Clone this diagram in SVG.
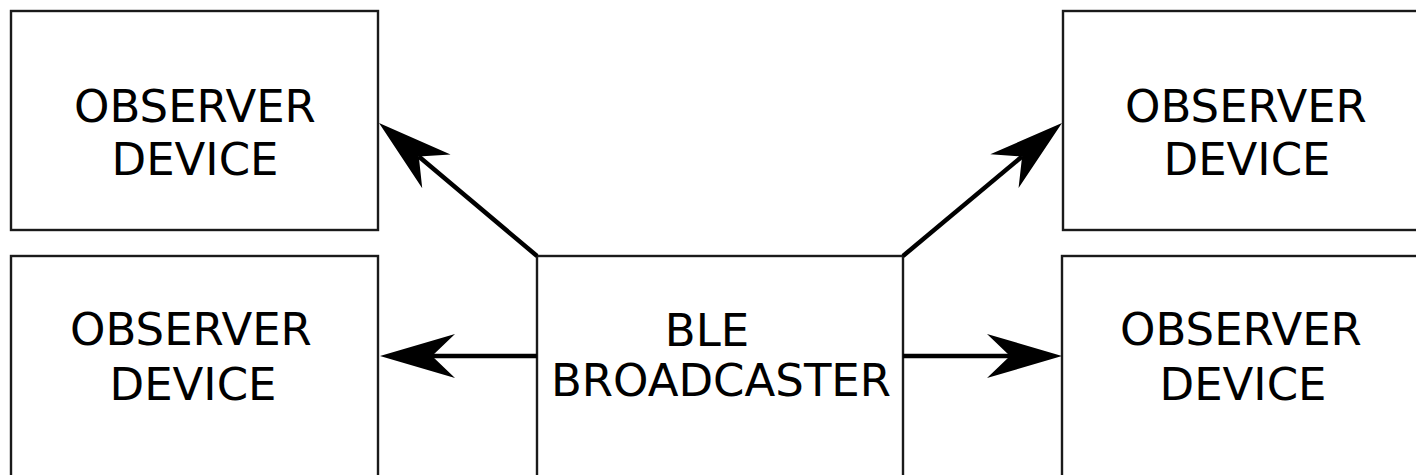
<svg xmlns="http://www.w3.org/2000/svg" width="1416" height="475" viewBox="0 0 1416 475">
  <style>
    .box { fill: #ffffff; stroke: #1a1a1a; stroke-width: 2.4; }
    .lbl { font-family: "DejaVu Sans", Verdana, sans-serif; font-size: 45px; fill: #000000; text-anchor: middle; }
    .link { stroke: #000000; stroke-width: 4.5; fill: none; marker-end: url(#head); }
  </style>
  <defs>
    <!-- notched arrowhead; reference point sits at the notch so the shaft ends there -->
    <marker id="head" markerUnits="userSpaceOnUse" viewBox="-25 -25 80 50" markerWidth="80" markerHeight="50" refX="0" refY="0" orient="auto" overflow="visible">
      <path d="M52,0 L-23,-22 L0,0 L-23,22 Z" fill="#000000"/>
    </marker>
  </defs>
  <rect width="1416" height="475" fill="#ffffff"/>

  <g id="observer-top-left">
    <rect class="box" x="11" y="11" width="367" height="219"/>
    <text class="lbl" x="195" y="122">OBSERVER</text>
    <text class="lbl" x="195" y="175">DEVICE</text>
  </g>
  <g id="observer-bottom-left">
    <rect class="box" x="11" y="256" width="367" height="222"/>
    <text class="lbl" x="191" y="345">OBSERVER</text>
    <text class="lbl" x="193" y="400">DEVICE</text>
  </g>
  <g id="observer-top-right">
    <rect class="box" x="1063" y="11" width="367" height="219"/>
    <text class="lbl" x="1246" y="122">OBSERVER</text>
    <text class="lbl" x="1247" y="175">DEVICE</text>
  </g>
  <g id="observer-bottom-right">
    <rect class="box" x="1062" y="256" width="367" height="222"/>
    <text class="lbl" x="1241" y="345">OBSERVER</text>
    <text class="lbl" x="1243" y="400">DEVICE</text>
  </g>
  <g id="ble-broadcaster">
    <rect class="box" x="537" y="256" width="366" height="222"/>
    <text class="lbl" x="707" y="346">BLE</text>
    <text class="lbl" x="721" y="396">BROADCASTER</text>
  </g>

  <g id="connectors">
    <line class="link" x1="537" y1="256" x2="418.8" y2="156.5"/>
    <line class="link" x1="903" y1="256" x2="1022.1" y2="156.4"/>
    <line class="link" x1="537" y1="356" x2="432" y2="356"/>
    <line class="link" x1="903" y1="356" x2="1010" y2="356"/>
  </g>
</svg>
